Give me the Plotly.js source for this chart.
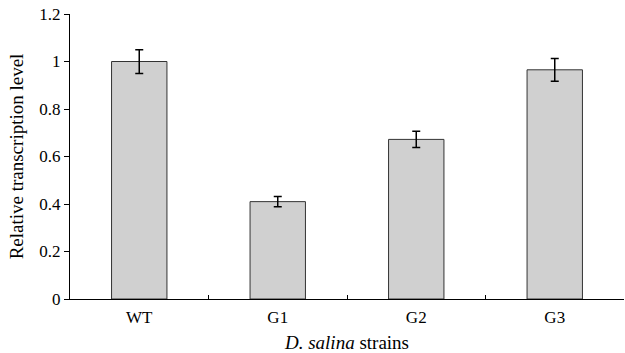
<!DOCTYPE html>
<html>
<head>
<meta charset="utf-8">
<script src="https://cdn.plot.ly/plotly-3.0.1.min.js"></script>
<style>html,body{margin:0;padding:0;background:#fff;}#chart{width:625px;height:353px;}</style>
</head>
<body>
<div id="chart"></div>
<script>
const strains = ["WT", "G1", "G2", "G3"];
const levels = [1.0, 0.41, 0.672, 0.965];
const errors = [0.05, 0.022, 0.034, 0.048];
const yTicks = [0, 0.2, 0.4, 0.6, 0.8, 1, 1.2];

const font = "Liberation Serif, Times New Roman, serif";

Plotly.newPlot("chart", [{
  type: "bar",
  x: strains,
  y: levels,
  width: 0.4,
  marker: {color: "#d0d0d0", line: {color: "#333333", width: 1}},
  error_y: {type: "data", array: errors, visible: true, color: "#000", thickness: 1.5, width: 4}
}], {
  width: 625, height: 353,
  margin: {l: 70, r: 1, t: 14, b: 54},
  paper_bgcolor: "#fff", plot_bgcolor: "#fff",
  showlegend: false,
  font: {family: font, color: "#000", size: 17},
  xaxis: {
    type: "category",
    range: [-0.5, 3.5],
    showline: true, linecolor: "#000", linewidth: 1,
    ticks: "inside", tickson: "boundaries", ticklen: 4, tickcolor: "#000",
    ticklabelstandoff: 3,
    showgrid: false, zeroline: false,
    tickfont: {family: font, size: 17},
    title: {text: "<i>D. salina</i> strains", font: {family: font, size: 19}, standoff: 10}
  },
  yaxis: {
    range: [0, 1.2],
    tickvals: yTicks,
    ticktext: yTicks.map(String),
    showline: true, linecolor: "#000", linewidth: 1,
    ticks: "outside", ticklen: 5, tickcolor: "#000",
    showgrid: false, zeroline: false,
    tickfont: {family: font, size: 17},
    title: {text: "Relative transcription level", font: {family: font, size: 19}, standoff: 10}
  }
}, {displayModeBar: false, staticPlot: true});
</script>
</body>
</html>
